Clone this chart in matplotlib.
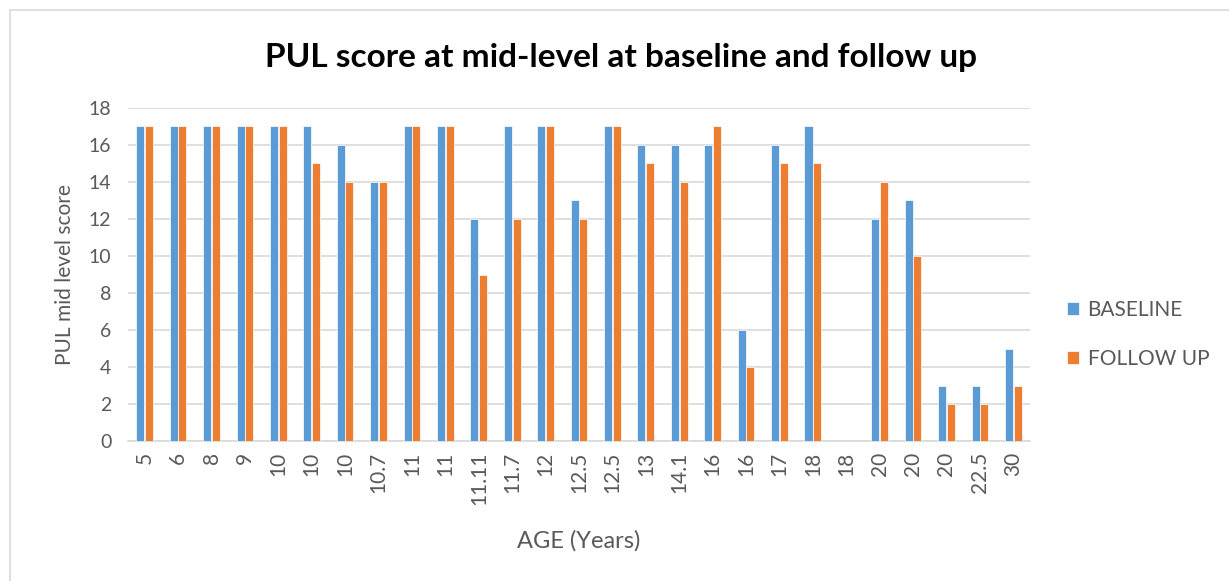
import matplotlib.pyplot as plt
import matplotlib.patches as mpatches
import numpy as np

plt.rcParams['font.family'] = ['Lato', 'DejaVu Sans']

ages = ['5', '6', '8', '9', '10', '10', '10', '10.7', '11', '11', '11.11', '11.7',
        '12', '12.5', '12.5', '13', '14.1', '16', '16', '17', '18', '18', '20',
        '20', '20', '22.5', '30']
baseline = [17, 17, 17, 17, 17, 17, 16, 14, 17, 17, 12, 17, 17, 13, 17, 16, 16,
            16, 6, 16, 17, 0, 12, 13, 3, 3, 5]
follow_up = [17, 17, 17, 17, 17, 15, 14, 14, 17, 17, 9, 12, 17, 12, 17, 15, 14,
             17, 4, 15, 15, 0, 14, 10, 2, 2, 3]

blue = '#5b9bd5'
orange = '#ed7d31'
grey_text = '#595959'

fig = plt.figure(figsize=(12.29, 5.81), dpi=100)
# outer chart frame
fig.patches.append(mpatches.Rectangle((10 / 1229, -0.05), 1.1, (571 / 581) + 0.05,
                                      transform=fig.transFigure, fill=False,
                                      edgecolor='#d9d9d9', linewidth=1.2))

ax = fig.add_axes([128 / 1229, 140 / 581, 902 / 1229, 333 / 581])
x = np.arange(len(ages))
w = 0.24
ax.bar(x - w / 2 - 0.01, baseline, w, color=blue, edgecolor='white', linewidth=0.5,
       label='BASELINE', zorder=3)
ax.bar(x + w / 2 + 0.01, follow_up, w, color=orange, edgecolor='white', linewidth=0.5,
       label='FOLLOW UP', zorder=3)

ax.set_xlim(-0.5, len(ages) - 0.5)
ax.set_ylim(0, 18)
ax.set_yticks(range(0, 19, 2))
ax.yaxis.grid(True, color='#d9d9d9', linewidth=1.2, zorder=0)
ax.set_axisbelow(True)
for s in ['top', 'right', 'left']:
    ax.spines[s].set_visible(False)
ax.spines['bottom'].set_color('#d9d9d9')
ax.spines['bottom'].set_linewidth(1.2)
ax.tick_params(axis='both', length=0, colors=grey_text)
ax.tick_params(axis='y', pad=12, labelsize=14)
ax.tick_params(axis='x', pad=8, labelsize=15)
ax.set_xticks(x)
ax.set_xticklabels(ages, rotation=90)

ax.set_xlabel('AGE (Years)', fontsize=17, color=grey_text, labelpad=18)
ax.set_ylabel('PUL mid level score', fontsize=15, color=grey_text, labelpad=10)
fig.text(621 / 1229, 1 - 57 / 581, 'PUL score at mid-level at baseline and follow up',
         ha='center', va='center', fontsize=24, fontweight='bold', color='black')

ax.legend(loc='center left', bbox_to_anchor=(1.02, 0.32), frameon=False,
          fontsize=15, labelcolor=grey_text, handlelength=0.6, handleheight=0.6,
          labelspacing=1.4, handletextpad=0.4)

fig.savefig('out.png', dpi=100)
